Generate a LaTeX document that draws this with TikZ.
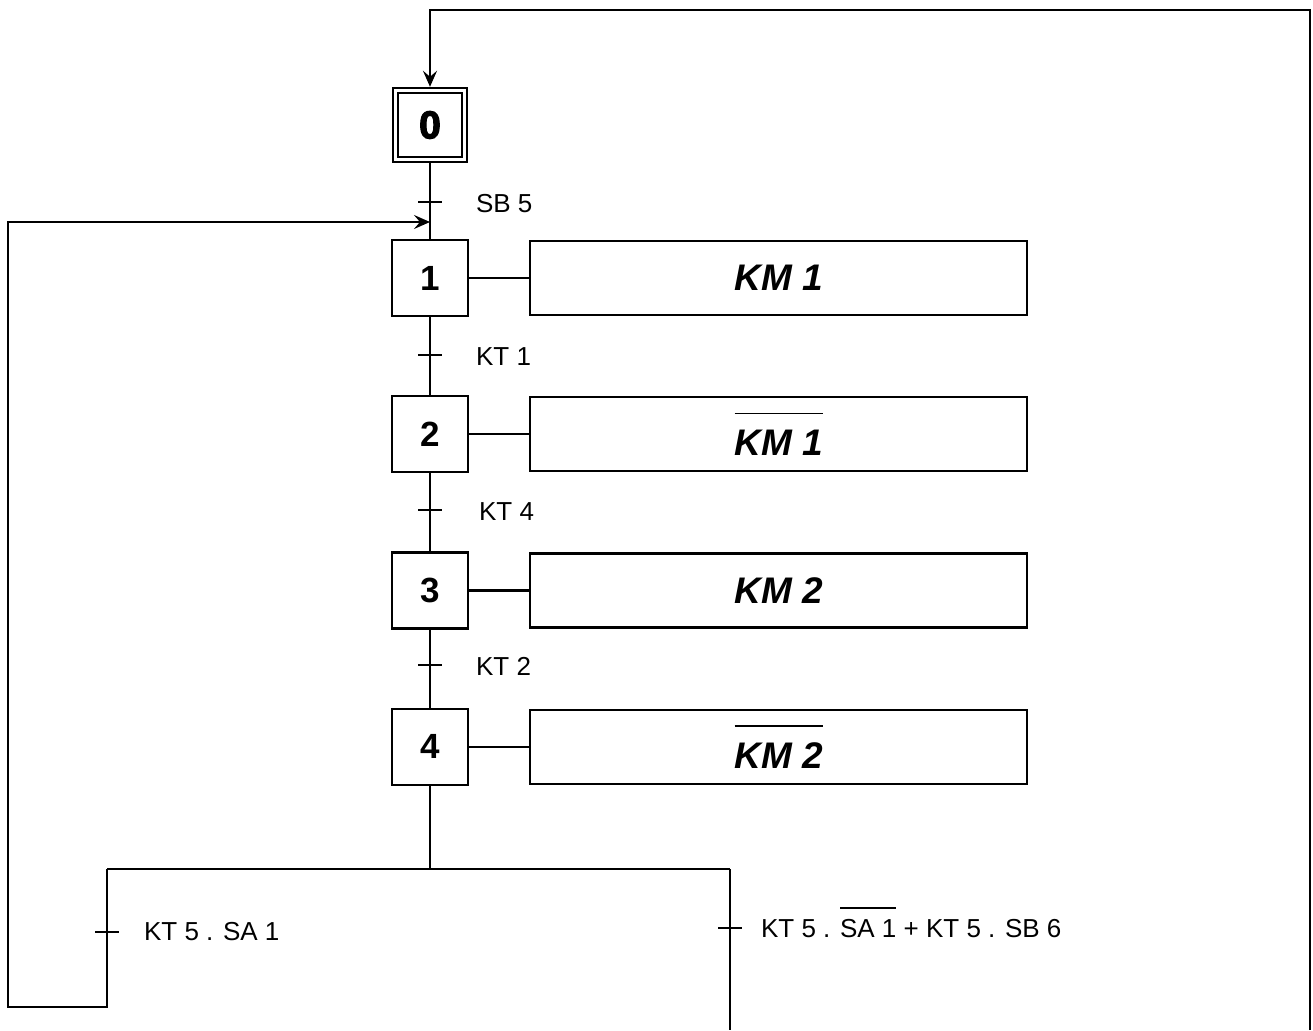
\documentclass[tikz,border=0pt]{standalone}
\usepackage{fontspec}
\setmainfont{Liberation Sans}
\newfontfamily\heavyfont{Liberation Sans}[BoldFeatures={FakeBold=3}]
\usetikzlibrary{positioning,arrows.meta}

\newcommand{\negsig}[2][0.43em]{\vbox{\hrule height 1.8pt\kern#1\hbox{#2}}}

\tikzset{
  stepbox/.style={draw, minimum size=76pt, inner sep=0pt, font=\fontsize{35}{35}\selectfont\bfseries},
  actbox/.style={draw, minimum width=497pt, minimum height=74pt, inner sep=0pt, font=\fontsize{37}{37}\selectfont\bfseries\itshape},
  trans/.style={anchor=base west, inner sep=0pt, font=\fontsize{26}{26}\selectfont},
  flow/.style={-{Stealth[length=16pt, width=14pt, inset=6pt]}},
}

\begin{document}
\begin{tikzpicture}[x=1pt, y=-1pt, line width=2.2pt]

    \useasboundingbox (0,0) rectangle (1313,1030);

    % steps
    \node[stepbox, double, double distance=3pt, minimum size=69pt, outer sep=3.7pt,
      font=\fontsize{39}{39}\selectfont\heavyfont\bfseries] (s0) at (430,125) {0};
    \node[stepbox] (s1) at (430,278) {1};
    \node[stepbox, below=78pt of s1] (s2) {2};
    \node[stepbox, below=78pt of s2] (s3) {3};
    \node[stepbox, below=78pt of s3] (s4) {4};

    % actions
    \node[actbox, right=60pt of s1] (a1) {KM 1};
    \node[actbox, right=60pt of s2] (a2) {\negsig{KM 1}};
    \node[actbox, right=60pt of s3] (a3) {KM 2};
    \node[actbox, right=60pt of s4] (a4) {\negsig{KM 2}};

    \foreach \i in {1,...,4}
      \draw (s\i.east) -- (a\i.west);

    % transitions
    \coordinate (t0) at (430,202);
    \coordinate (m1) at (430,222);
    \coordinate (t1) at (430,355);
    \coordinate (t2) at (430,510);
    \coordinate (t3) at (430,665);
    \coordinate (j4) at (430,869);
    \coordinate (bl) at (107,869);
    \coordinate (br) at (730,869);
    \coordinate (tl) at (107,932);
    \coordinate (tr) at (730,928);

    \draw (s0) -- (s1);
    \draw (s1) -- (s2);
    \draw (s2) -- (s3);
    \draw (s3) -- (s4);
    \draw (s4) -- (j4);
    \draw (bl) -- (br);

    \foreach \t in {t0,t1,t2,t3,tl,tr}
      \draw ([xshift=-12pt]\t) -- ([xshift=12pt]\t);

    \node[trans] (l0) at (475,212) {SB 5};
    \node[trans] (l1) at (475,365) {KT 1};
    \node[trans] (l2) at (478,520) {KT 4};
    \node[trans] (l3) at (475,675) {KT 2};
    \node[trans] (l4) at (143,940) {KT 5 . SA 1};
    \node[trans] (l5) at (760,937) {KT 5 . \negsig[0.38em]{SA 1} + KT 5 . SB 6};

    % loops back
    \draw[flow] (bl) |- (8,1007) |- (m1);
    \draw (br) -- (730,1030);
    \draw[flow] (1310,1030) -- (1310,10) -| (s0.north);

\end{tikzpicture}
\end{document}
